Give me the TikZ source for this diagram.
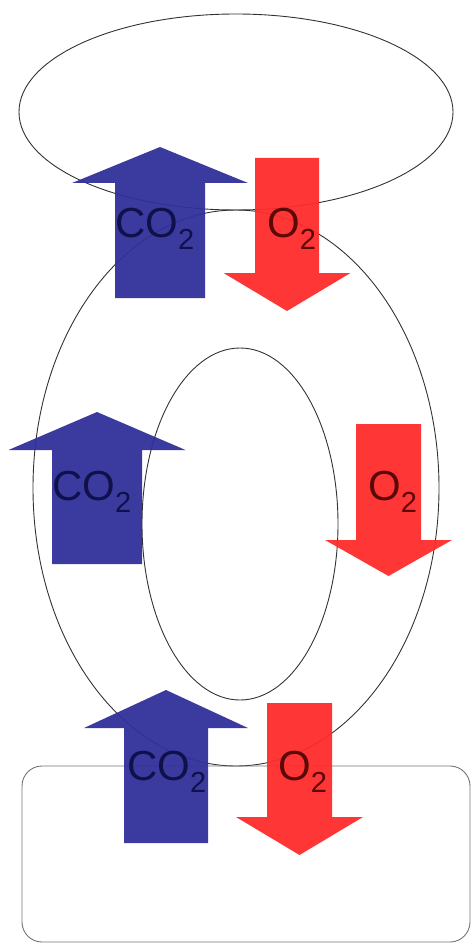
\documentclass[tikz,border=0pt]{standalone}
\usepackage{fontspec}
\setmainfont{Liberation Sans}
\usetikzlibrary{positioning}
\definecolor{co2fill}{HTML}{30309A}
\definecolor{o2fill}{HTML}{FF2B2B}
\definecolor{co2ink}{HTML}{10104A}
\definecolor{o2ink}{HTML}{5A0808}
\newcommand{\gas}[1]{#1\raisebox{-12pt}{\fontsize{29}{29}\selectfont 2}}
% shaft centre x, shaft half width, head half width, tail y, head base y, tip y
\newcommand{\gasarrow}[7]{%
  \fill[#1] (#2-#3,#5) -- (#2-#3,#6) -- (#2-#4,#6) -- (#2,#7)
    -- (#2+#4,#6) -- (#2+#3,#6) -- (#2+#3,#5) -- cycle;}
\tikzset{
  outline/.style={draw=black!80,line width=0.9pt},
  co2arr/.style={fill=co2fill,fill opacity=0.95},
  o2arr/.style={fill=o2fill,fill opacity=0.95},
  co2lbl/.style={anchor=base west,inner sep=0pt,text=co2ink,font=\fontsize{42}{42}\selectfont},
  o2lbl/.style={co2lbl,text=o2ink},
}
\begin{document}
\begin{tikzpicture}[x=1pt,y=-1pt]
\useasboundingbox (0,0) rectangle (471,944);
% compartments
\draw[outline] (236,112) ellipse [x radius=217, y radius=98];
\draw[outline] (236,488) ellipse [x radius=203, y radius=278];
\draw[outline] (240,524) ellipse [x radius=98, y radius=176];
\draw[outline,draw=black!55,rounded corners=20pt] (22,766) rectangle (470,942);
% gas exchange arrows
\gasarrow{co2arr}{160}{45}{88}{298}{183}{147}
\gasarrow{o2arr}{287}{32}{63.5}{158}{273}{311}
\gasarrow{co2arr}{97}{45}{88.5}{564}{450}{412}
\gasarrow{o2arr}{388.5}{32.5}{63.5}{424}{540}{576}
\gasarrow{co2arr}{166}{42}{82}{843}{728}{690}
\gasarrow{o2arr}{299.5}{32.5}{63.5}{703}{817}{855}
% labels
\node[co2lbl] (co2top) at (115,237) {\gas{CO}};
\node[o2lbl] (o2top) at (267,237) {\gas{O}};
\node[co2lbl] (co2mid) at (52,500) {\gas{CO}};
\node[o2lbl] (o2mid) at (368,500) {\gas{O}};
\node[co2lbl] (co2bot) at (127,780) {\gas{CO}};
\node[o2lbl] (o2bot) at (278,780) {\gas{O}};
\end{tikzpicture}
\end{document}
